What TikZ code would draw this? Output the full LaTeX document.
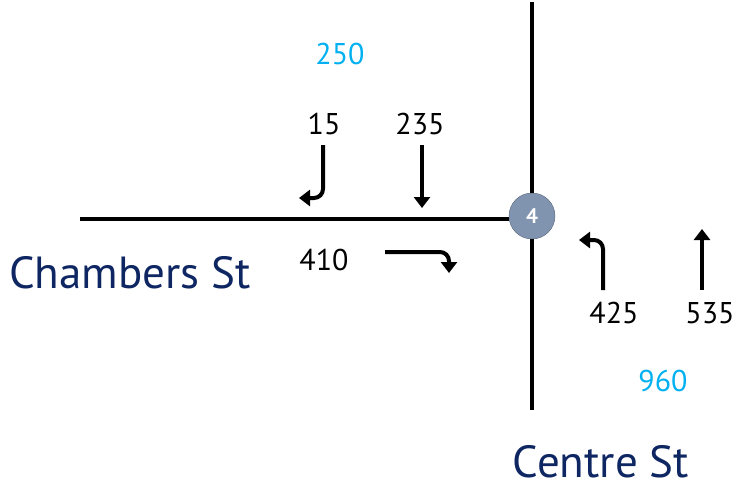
\documentclass[tikz,border=0pt]{standalone}
\usepackage{fontspec}
\setmainfont{PT Sans}
\usetikzlibrary{arrows.meta}
\definecolor{flowcyan}{RGB}{0,176,240}
\definecolor{streetnavy}{RGB}{14,38,98}
\definecolor{junctionfill}{RGB}{128,148,176}
\definecolor{junctionline}{RGB}{84,98,120}

\tikzset{
  road/.style={line width=4.5pt},
  move/.style={line width=4pt, rounded corners=9pt, -{Triangle[length=11pt,width=16pt]}},
  count/.style={font=\fontsize{30}{36}\selectfont},
  total/.style={count, text=flowcyan},
  street/.style={font=\fontsize{45}{52}\selectfont, text=streetnavy, inner sep=0pt, text depth=0pt, anchor=base}
}

\begin{document}
\begin{tikzpicture}[x=1pt, y=-1pt]
    \useasboundingbox (0,0) rectangle (740,490);

    % roads and junction
    \coordinate (wEnd) at (80,219);
    \coordinate (nEnd) at (532,2);
    \coordinate (sEnd) at (532,410);
    \node[circle, minimum size=46pt, inner sep=0pt, fill=junctionfill, draw=junctionline, thin,
          text=white, font=\bfseries\fontsize{21}{25}\selectfont] (j4) at (532,216) {4};
    \draw[road] (wEnd) -- (wEnd -| j4.west);
    \draw[road] (nEnd) -- (j4);
    \draw[road] (j4) -- (sEnd);

    % street names
    \node[street] (chambers) at (130,288) {Chambers St};
    \node[street] (centre) at (601,477) {Centre St};

    % approach totals
    \node[total] (tNorth) at (340,54) {250};
    \node[total] (tSouth) at (663,381) {960};

    % turning counts
    \node[count] (c15) at (324,124) {15};
    \node[count] (c235) at (420,124) {235};
    \node[count] (c410) at (324,260) {410};
    \node[count] (c425) at (614,313) {425};
    \node[count] (c535) at (710,313) {535};

    % movement arrows
    \coordinate (m15a) at (323,145);
    \coordinate (m15b) at (299,198);
    \draw[move] (m15a) |- (m15b);
    \coordinate (m235a) at (422,145);
    \coordinate (m235b) at (422,208);
    \draw[move] (m235a) -- (m235b);
    \coordinate (m410a) at (385,252);
    \coordinate (m410b) at (449,273);
    \draw[move] (m410a) -| (m410b);
    \coordinate (m425a) at (603,290);
    \coordinate (m425b) at (579,240);
    \draw[move] (m425a) |- (m425b);
    \coordinate (m535a) at (702,290);
    \coordinate (m535b) at (702,229);
    \draw[move] (m535a) -- (m535b);
\end{tikzpicture}
\end{document}
